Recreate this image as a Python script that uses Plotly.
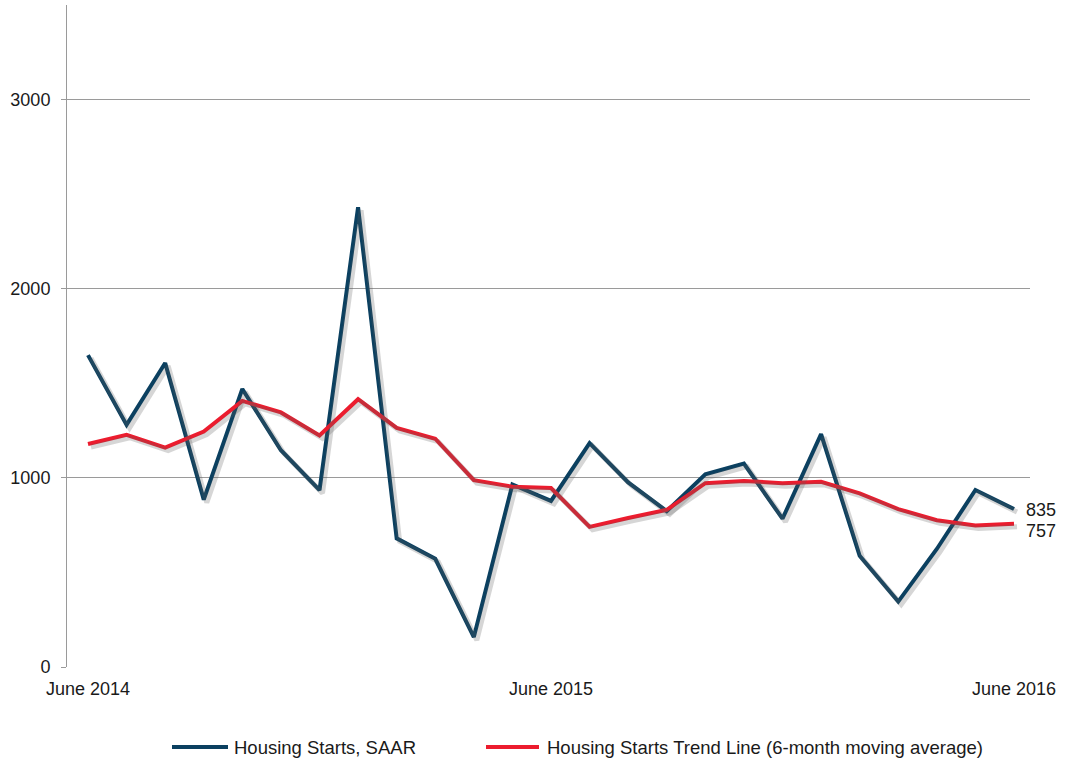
import plotly.graph_objects as go

months = ["Jun 2014", "Jul 2014", "Aug 2014", "Sep 2014", "Oct 2014", "Nov 2014", "Dec 2014",
          "Jan 2015", "Feb 2015", "Mar 2015", "Apr 2015", "May 2015", "Jun 2015", "Jul 2015",
          "Aug 2015", "Sep 2015", "Oct 2015", "Nov 2015", "Dec 2015", "Jan 2016", "Feb 2016",
          "Mar 2016", "Apr 2016", "May 2016", "Jun 2016"]
starts_saar = [1649, 1280, 1607, 885, 1470, 1146, 935, 2431, 680, 572, 158, 965, 878, 1184,
               976, 824, 1019, 1075, 784, 1231, 588, 346, 624, 936, 835]
trend_6m = [1179, 1228, 1160, 1245, 1407, 1346, 1224, 1416, 1264, 1207, 988, 953, 946, 741,
            788, 831, 972, 984, 972, 979, 918, 835, 776, 748, 757]
tick_idx = [0, 12, 24]
tick_labels = ["June 2014", "June 2015", "June 2016"]
y_ticks = [0, 1000, 2000, 3000]
series_names = ["Housing Starts, SAAR", "Housing Starts Trend Line (6-month moving average)"]

BLUE = "#0b4060"
RED = "#ec1c2e"
FONT = "Liberation Sans, Arial, sans-serif"
TXT = "#1a1a1a"

# layout geometry (pixels)
W, H = 1072, 765
L, R, T, B = 67, 42, 5, 98
pw = W - L - R
ph = H - T - B
x0_px, x1_px = 88, 1014
unit = (x1_px - x0_px) / (len(months) - 1)
xr = [-(x0_px - L) / unit, (len(months) - 1) + (W - R - x1_px) / unit]
yr = [0, 3500]
ypu = ph / (yr[1] - yr[0])

xs = list(range(len(months)))

fig = go.Figure()

# soft shadows via an offset overlay axis
sdx, sdy = 3, 3
for vals in (starts_saar, trend_6m):
    fig.add_trace(go.Scatter(x=xs, y=vals, mode="lines", xaxis="x2", yaxis="y2",
                             line=dict(color="rgba(90,90,90,0.25)", width=5),
                             hoverinfo="skip", showlegend=False))

fig.add_trace(go.Scatter(x=xs, y=starts_saar, mode="lines", name=series_names[0],
                         line=dict(color=BLUE, width=4), showlegend=False))
fig.add_trace(go.Scatter(x=xs, y=trend_6m, mode="lines", name=series_names[1],
                         line=dict(color=RED, width=4), showlegend=False))

fig.update_layout(
    width=W, height=H,
    margin=dict(l=L, r=R, t=T, b=B),
    paper_bgcolor="white", plot_bgcolor="white",
    font=dict(family=FONT, size=18, color=TXT),
    xaxis=dict(range=xr, tickmode="array", tickvals=tick_idx, ticktext=tick_labels,
               showgrid=False, zeroline=False, showline=False, ticks="",
               ticklabelstandoff=9, tickfont=dict(size=18, color=TXT)),
    yaxis=dict(range=yr, tickmode="array", tickvals=y_ticks, showgrid=True,
               gridcolor="#9a9a9a", gridwidth=1, zeroline=False,
               showline=True, linecolor="#9a9a9a", linewidth=1,
               ticks="outside", ticklen=5, tickcolor="#9a9a9a",
               ticklabelstandoff=7, tickfont=dict(size=18, color=TXT)),
    xaxis2=dict(range=[xr[0] - sdx / unit, xr[1] - sdx / unit], overlaying="x",
                visible=False),
    yaxis2=dict(range=[yr[0] + sdy / ypu, yr[1] + sdy / ypu], overlaying="y",
                visible=False),
)

# end labels
last = len(months) - 1
fig.add_annotation(x=last, y=starts_saar[-1], text=f"{starts_saar[-1]}",
                   showarrow=False, xanchor="left", xshift=10, yshift=-1,
                   font=dict(size=18, color=TXT))
fig.add_annotation(x=last, y=trend_6m[-1], text=f"{trend_6m[-1]}",
                   showarrow=False, xanchor="left", xshift=10, yshift=-7,
                   font=dict(size=18, color=TXT))

# manual legend
def px2paper(px, py):
    return (px - L) / pw, (H - B - py) / ph

leg_y = 747
for (xa, xb, xt), name, col in zip([(172, 228, 232), (486, 539, 545)], series_names, [BLUE, RED]):
    pa = px2paper(xa, leg_y)
    pb = px2paper(xb, leg_y)
    fig.add_shape(type="line", xref="paper", yref="paper", x0=pa[0], x1=pb[0],
                  y0=pa[1], y1=pb[1], line=dict(color=col, width=4))
    pt = px2paper(xt, leg_y)
    fig.add_annotation(xref="paper", yref="paper", x=pt[0], y=pt[1], text=name,
                       showarrow=False, xanchor="left", yanchor="middle",
                       font=dict(size=18.5, color=TXT))

fig.write_html("out.html", config={"displayModeBar": False},
               post_script="document.body.style.margin='0';document.body.style.padding='0';")
